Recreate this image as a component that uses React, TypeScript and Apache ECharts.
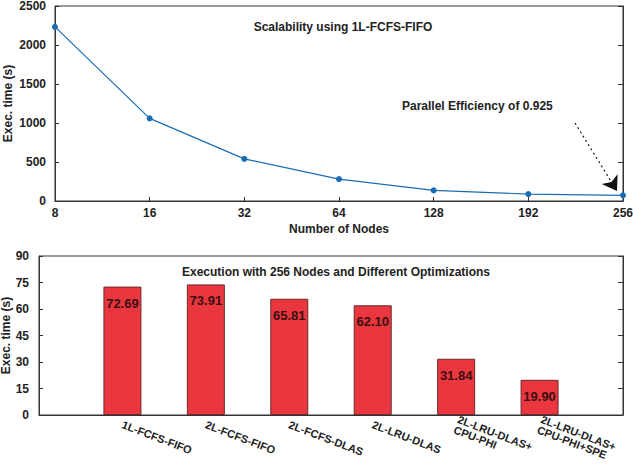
import React, { useEffect, useRef } from "react";
import * as echarts from "echarts";

const nodes = ["8", "16", "32", "64", "128", "192", "256"];
const execTimes = [2232, 1059, 540, 281, 136, 89, 72.69];
const yTicksTop = { min: 0, max: 2500, interval: 500 };

const optCategories = [
  "",
  "1L-FCFS-FIFO",
  "2L-FCFS-FIFO",
  "2L-FCFS-DLAS",
  "2L-LRU-DLAS",
  "2L-LRU-DLAS+\nCPU-PHI",
  "2L-LRU-DLAS+\nCPU-PHI+SPE",
  "",
];
const optTimes = [null, 72.69, 73.91, 65.81, 62.1, 31.84, 19.9, null];
const yTicksBottom = { min: 0, max: 90, interval: 15 };

const FONT = "'Liberation Sans', Arial, Helvetica, sans-serif";
const AX = "#333";
const TXT = "#222";

export default function App() {
  const ref = useRef<HTMLDivElement>(null);
  useEffect(() => {
    if (!ref.current) return;
    const chart = echarts.init(ref.current, null, { renderer: "svg" });
    const axisLabel = { color: TXT, fontSize: 12, fontWeight: "bold", fontFamily: FONT };
    const nameStyle = { color: TXT, fontSize: 12, fontWeight: "bold", fontFamily: FONT };
    const plain = (v: number) => String(v);
    chart.setOption({
      animation: false,
      backgroundColor: "#fff",
      textStyle: { fontFamily: FONT },
      title: [
        {
          text: "Scalability using 1L-FCFS-FIFO",
          left: 338,
          top: 16,
          textAlign: "center",
          textStyle: { fontSize: 12, fontWeight: "bold", color: TXT, fontFamily: FONT },
        },
        {
          text: "Execution with 256 Nodes and Different Optimizations",
          left: 331,
          top: 261,
          textAlign: "center",
          textStyle: { fontSize: 12, fontWeight: "bold", color: TXT, fontFamily: FONT },
        },
      ],
      graphic: [
        {
          type: "text",
          left: 402,
          top: 100,
          style: {
            text: "Parallel Efficiency of 0.925",
            fill: TXT,
            font: `bold 12px ${FONT}`,
          },
        },
      ],
      grid: [
        { left: 55, right: 10, top: 6, height: 195, show: true, borderColor: AX, borderWidth: 1, backgroundColor: "transparent", containLabel: false, outerBoundsMode: "none" },
        { left: 39, right: 10, top: 256, height: 159, show: true, borderColor: AX, borderWidth: 1, backgroundColor: "transparent", containLabel: false, outerBoundsMode: "none" },
      ],
      xAxis: [
        {
          gridIndex: 0,
          type: "category",
          data: nodes,
          boundaryGap: false,
          name: "Number of Nodes",
          nameLocation: "middle",
          nameGap: 22,
          nameMoveOverlap: false,
          nameTextStyle: nameStyle,
          axisLine: { lineStyle: { color: AX } },
          axisTick: { inside: true, length: 4, lineStyle: { color: AX } },
          axisLabel: { ...axisLabel, margin: 6 },
          splitLine: { show: false },
        },
        {
          gridIndex: 1,
          type: "category",
          data: optCategories,
          boundaryGap: false,
          axisLine: { lineStyle: { color: AX } },
          axisTick: { show: false },
          axisLabel: {
            color: TXT,
            fontSize: 11,
            fontWeight: "bold",
            fontFamily: FONT,
            rotate: -21,
            interval: 0,
            margin: 9,
            lineHeight: 11,
          },
          splitLine: { show: false },
        },
      ],
      yAxis: [
        {
          gridIndex: 0,
          type: "value",
          ...yTicksTop,
          name: "Exec. time (s)",
          nameLocation: "middle",
          nameGap: 41,
          nameMoveOverlap: false,
          nameRotate: 90,
          nameTextStyle: nameStyle,
          axisLine: { show: true, lineStyle: { color: AX } },
          axisTick: { show: true, inside: true, length: 4, lineStyle: { color: AX } },
          axisLabel: { ...axisLabel, margin: 9, formatter: plain },
          splitLine: { show: false },
        },
        {
          gridIndex: 0,
          type: "value",
          position: "right",
          ...yTicksTop,
          axisLine: { show: true, lineStyle: { color: AX } },
          axisTick: { show: true, inside: true, length: 5, lineStyle: { color: AX } },
          axisLabel: { show: false },
          splitLine: { show: false },
        },
        {
          gridIndex: 1,
          type: "value",
          ...yTicksBottom,
          name: "Exec. time (s)",
          nameLocation: "middle",
          nameGap: 27,
          nameMoveOverlap: false,
          nameRotate: 90,
          nameTextStyle: nameStyle,
          axisLine: { show: true, lineStyle: { color: AX } },
          axisTick: { show: true, inside: true, length: 4, lineStyle: { color: AX } },
          axisLabel: { ...axisLabel, margin: 10, formatter: plain },
          splitLine: { show: false },
        },
        {
          gridIndex: 1,
          type: "value",
          position: "right",
          ...yTicksBottom,
          axisLine: { show: true, lineStyle: { color: AX } },
          axisTick: { show: true, inside: true, length: 5, lineStyle: { color: AX } },
          axisLabel: { show: false },
          splitLine: { show: false },
        },
      ],
      series: [
        {
          type: "line",
          xAxisIndex: 0,
          yAxisIndex: 0,
          data: execTimes,
          symbol: "circle",
          symbolSize: 6,
          itemStyle: { color: "#1a6db5" },
          lineStyle: { color: "#1a6db5", width: 1.2 },
          markLine: {
            silent: true,
            symbol: ["none", "arrow"],
            symbolSize: 14,
            label: { show: false },
            itemStyle: { color: "#111" },
            lineStyle: { color: "#111", type: [2, 3], width: 1.2 },
            data: [[{ x: 575, y: 123 }, { x: 617, y: 191 }]],
          },
        },
        {
          type: "bar",
          xAxisIndex: 1,
          yAxisIndex: 2,
          data: optTimes,
          barWidth: 38,
          itemStyle: { color: "#e9363f", borderColor: "#6b2b2b", borderWidth: 1 },
          label: {
            show: true,
            position: "insideTop",
            distance: 10,
            formatter: (p: any) => Number(p.value).toFixed(2),
            color: "#3a1010",
            fontSize: 13,
            fontWeight: "bold",
            fontFamily: FONT,
          },
        },
      ],
    });
    return () => chart.dispose();
  }, []);
  return <div ref={ref} style={{ width: 633, height: 464, position: "absolute", left: 0, top: 0 }} />;
}
